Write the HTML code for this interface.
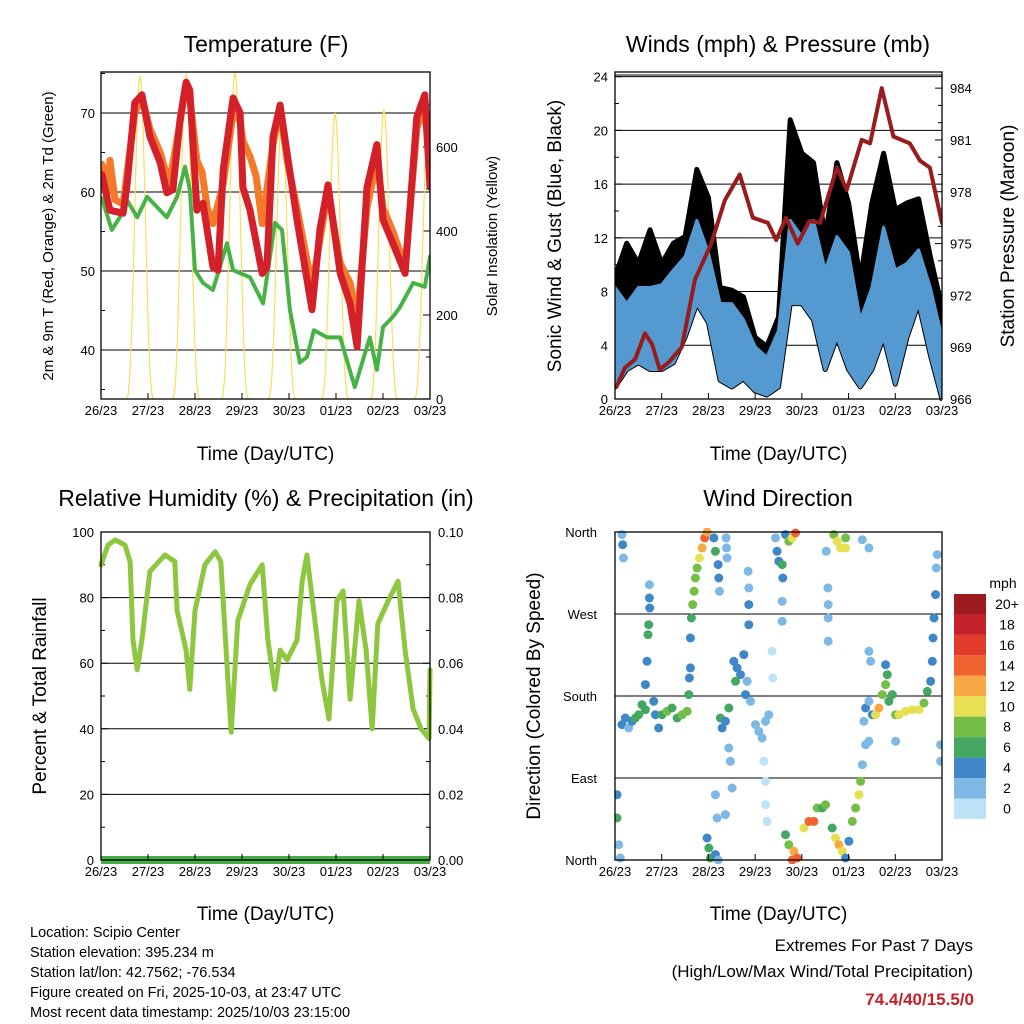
<!DOCTYPE html>
<html><head><meta charset="utf-8">
<style>
html,body{margin:0;padding:0;background:#fff;}
svg{display:block;font-family:"Liberation Sans",Arial,sans-serif;}
</style></head>
<body>
<svg id="c" width="1024" height="1024" viewBox="0 0 1024 1024" xmlns="http://www.w3.org/2000/svg"></svg>
<script>
// ---------- DATA ----------
const dayLabels = ["26/23","27/23","28/23","29/23","30/23","01/23","02/23","03/23"];
// Temperature (days since start, deg F)
const redT = [0.02,0.19,0.47,0.55,0.72,0.87,1.04,1.26,1.40,1.53,1.68,1.81,1.89,2.04,2.17,2.38,2.49,2.60,2.81,2.96,3.02,3.17,3.43,3.53,3.66,3.81,3.96,4.17,4.49,4.66,4.83,5.09,5.30,5.45,5.66,5.87,6.00,6.21,6.47,6.72,6.89,7.0];
const redV = [62.2,57.7,57.3,60.6,71.3,72.3,67,63.7,59.9,60.3,69.1,73.9,72.9,57.7,58.6,50.5,50.1,62.8,71.9,70,60.6,57.7,49.7,50.5,67,71,64.9,56.5,45.1,55.3,60.9,49.7,45.9,40.4,60.6,66,56.5,53.5,49.7,69.5,72.3,60.6];
const orgT = [0.02,0.15,0.19,0.30,0.47,0.72,0.87,1.04,1.26,1.45,1.60,1.81,1.89,2.04,2.15,2.26,2.38,2.60,2.81,2.96,3.02,3.17,3.30,3.43,3.66,3.81,3.96,4.17,4.49,4.66,4.83,5.09,5.30,5.45,5.66,5.87,6.00,6.21,6.47,6.72,6.89,7.0];
const orgV = [63.5,60,64,59,58.5,70,72,68,65,61,66,73.5,72,64,62.5,58,56,61,70,69,66.5,64.5,62,56,66,70.5,64,58,48,54,60,51,48.5,44,58,64,58,55,50.5,68,71,62];
const tdT = [0.02,0.23,0.40,0.55,0.77,0.98,1.40,1.62,1.79,1.89,2.00,2.17,2.38,2.68,2.81,3.17,3.45,3.70,3.85,4.02,4.23,4.38,4.53,4.81,5.09,5.40,5.72,5.87,6.00,6.21,6.36,6.64,6.89,7.0];
const tdV = [59.2,55.2,56.8,59,56.8,59.4,56.8,59.4,63.2,60.3,50.1,48.5,47.6,53.5,50.1,49.2,45.9,56.1,55.2,45.1,38.4,39.1,42.5,41.6,41.6,35.3,41.6,37.5,42.9,44.2,45.4,48.5,48,51.8];
// Solar insolation daily peaks (W/m2)
const solPeakT = [0.83,1.81,2.85,3.85,4.98,6.02,6.96];
const solPeakV = [770,775,780,681,681,690,660];
// Winds (mph)
const windT = [0,0.25,0.5,0.75,1,1.25,1.5,1.75,2,2.25,2.5,2.75,3,3.25,3.5,3.75,4,4.25,4.5,4.75,5,5.25,5.5,5.75,6,6.25,6.5,6.75,7];
const windHi = [8.3,7.1,8.3,8.3,8.5,9.6,10.6,13.3,10.9,7.1,7.1,5.9,3.9,3.1,5.1,13.3,12.1,13.3,9.6,12.1,10.9,5.9,8.3,12.8,9.6,10.1,11.1,8.3,4.6];
const windLo = [0.9,2.2,2.7,2.2,2.2,2.7,4.6,7.1,5.7,1.4,0.9,1.5,0.6,0.3,0.9,7.1,7.1,5.9,2.2,4.6,2.2,0.9,2.2,4.6,1.1,4.6,7.1,3.3,0.0];
const gustHi = [9.1,11.6,10.1,12.6,10.1,11.6,12.1,17.1,15,8.3,8.1,7.6,4.6,3.9,6.1,20.8,18.3,17.6,12.1,17.6,14.6,8.9,14.6,18.3,14.1,14.6,14.9,10.6,6.8];
// Pressure (mb)
const presT = [0.03,0.21,0.43,0.64,0.79,0.96,1.14,1.43,1.71,2.06,2.35,2.67,2.95,3.27,3.45,3.66,3.91,4.16,4.39,4.75,4.96,5.28,5.46,5.71,5.96,6.31,6.53,6.74,6.99,7.0];
const presV = [966.7,967.8,968.3,969.8,969.2,967.7,968.1,969,972.9,975,977.5,979,976.5,976.2,975.2,976.5,975,976.3,976.2,979.4,978.1,981,980.8,984,981.2,980.8,979.8,979.4,976.3,976.2];
// Relative humidity (%)
const rhT = [0,0.15,0.30,0.51,0.62,0.68,0.77,0.87,1.04,1.36,1.57,1.62,1.81,1.89,2.0,2.21,2.43,2.55,2.70,2.77,2.91,3.17,3.43,3.55,3.70,3.81,3.96,4.17,4.28,4.38,4.55,4.70,4.85,5.02,5.15,5.30,5.49,5.64,5.77,5.89,6.11,6.32,6.47,6.64,6.81,6.98,7.0];
const rhV = [90,96,97.6,96,91,67,58,67,88,93,91,76,64,52,76,90,94,91,55,39,73,84,90,67,52,64,61,67,85,93,73,55,43,79,82,49,79,64,40,72,79,85,64,46,40,37,58];
const precipTotal = 0;
// Wind direction scatter: time (days), direction (deg), speed (mph)
const dirZ = [[30,590,4],[40,570,5],[50,600,3],[60,580,4],[70,570,6],[80,560,6],[90,530,7],[100,545,7],[15,800,4],[15,870,6],[20,950,3],[25,990,2],[30,20,3],[32,50,4],[34,90,2],[100,470,4],[105,400,5],[108,320,7],[110,290,6],[113,240,4],[112,210,4],[112,170,2],[125,520,5],[130,560,4],[140,600,4],[150,560,7],[165,550,8],[180,540,7],[195,570,6],[210,560,8],[225,550,8],[230,500,6],[232,450,5],[235,420,4],[235,330,4],[238,270,7],[242,230,8],[246,190,8],[250,150,8],[255,120,9],[262,90,11],[270,60,13],[278,30,14],[285,12,13],[285,930,5],[290,960,6],[295,990,6],[310,980,4],[318,996,3],[305,30,5],[310,70,7],[318,110,4],[320,150,4],[322,190,2],[325,570,6],[330,600,4],[340,580,5],[350,540,6],[350,660,2],[355,700,2],[342,30,2],[343,60,2],[345,90,2],[365,400,4],[375,420,5],[385,440,4],[395,380,4],[405,460,3],[370,460,6],[400,500,4],[415,520,2],[408,130,3],[410,180,3],[410,230,4],[410,290,4],[430,590,2],[440,610,2],[450,630,2],[460,580,2],[470,560,2],[480,370,1],[482,450,1],[455,700,1],[460,760,1],[460,830,1],[465,880,1],[360,780,2],[340,860,2],[310,800,3],[315,870,2],[490,30,3],[495,70,4],[500,100,4],[510,110,6],[512,150,4],[510,220,3],[510,280,3],[520,20,5],[530,40,8],[540,30,11],[550,15,14],[520,920,7],[530,950,9],[545,970,12],[555,990,15],[540,996,14],[575,900,11],[590,880,15],[605,880,15],[615,840,9],[630,840,7],[640,830,8],[660,900,7],[670,930,10],[680,950,12],[690,970,10],[700,990,4],[710,940,4],[720,880,8],[730,840,9],[740,800,10],[745,760,9],[665,20,9],[675,40,10],[685,60,10],[700,30,9],[700,60,10],[647,180,3],[648,230,2],[648,270,3],[648,340,3],[642,70,3],[750,35,2],[770,60,2],[755,580,3],[760,540,4],[770,520,2],[780,560,5],[790,560,10],[800,540,13],[810,500,9],[820,470,8],[825,440,6],[830,520,7],[840,500,6],[850,560,9],[860,560,10],[880,550,10],[900,545,11],[920,545,11],[935,525,9],[945,490,6],[955,460,4],[960,400,4],[962,330,4],[965,270,4],[970,200,4],[972,120,2],[975,80,2],[760,650,3],[750,710,3],[770,640,2],[850,640,2],[775,400,2],[770,370,2],[820,410,4],[985,650,2],[985,700,2]];
const dirT = dirZ.map(p => +((p[0]-9)/140).toFixed(3));
const dirD = dirZ.map(p => +((996-p[1])/2.733).toFixed(1));
const dirS = dirZ.map(p => p[2]);
const speedLabels = ["20+","18","16","14","12","10","8","6","4","2","0"];
const speedColors = ["#9b1b1e","#c4212a","#e23a2b","#f0622f","#f8a946","#e6e052","#74bd46","#44a863","#3f87c6","#7db9e4","#bfe3f6"];

// ---------- HELPERS ----------
const svg = document.getElementById('c');
const NS = "http://www.w3.org/2000/svg";
function mk(tag, attrs, parent){
  const e = document.createElementNS(NS, tag);
  for (const k in attrs) e.setAttribute(k, attrs[k]);
  (parent||svg).appendChild(e);
  return e;
}
function txt(x,y,s,size,anchor,parent,extra){
  const t = mk('text',Object.assign({x:x,y:y,'font-size':size,'text-anchor':anchor||'middle',fill:'#000'},extra||{}),parent);
  t.textContent = s;
  return t;
}
function pathFrom(xs,ys){
  let d='';
  for(let i=0;i<xs.length;i++) d += (i?'L':'M')+xs[i].toFixed(1)+' '+ys[i].toFixed(1);
  return d;
}
function panel(name){
  const g = mk('g',{});
  
  
  return g;
}
function frame(g,x0,y0,x1,y1){
  const r = mk('rect',{x:x0,y:y0,width:x1-x0,height:y1-y0,fill:'none',stroke:'#000','stroke-width':1.3},g);
  
  
}
function xAxis(g,x0,x1,y1,labY,titleY){
  const ax = mk('g',{},g);
  
  
  for(let i=0;i<dayLabels.length;i++){
    const x = x0 + i*(x1-x0)/7;
    mk('line',{x1:x,y1:y1,x2:x,y2:y1-6,stroke:'#000','stroke-width':1},ax);
    const t = txt(x,labY,dayLabels[i],13,'middle',ax);
    
    
  }
  const tt = txt((x0+x1)/2,titleY,'Time (Day/UTC)',19,'middle',ax);
  
  
}
function vTitle(g,x,y,s,size,name){
  const t = txt(x,y,s,size,'middle',g,{transform:'rotate(-90 '+x+' '+y+')'});
  
  
}
function title(g,x,y,s,name){
  const t = txt(x,y,s,23,'middle',g);
  
  
}

// ---------- PANEL 1: TEMPERATURE ----------
(function(){
  const X0=101,X1=430,Y0=72,Y1=399;
  const g = panel('temperature-panel');
  const xT = t => X0 + t*(X1-X0)/7;
  const yT = v => 113 + (70-v)*7.9;
  const yS = v => 399 - v*0.42;
  title(g,266,52,'Temperature (F)','temperature-title');
  [40,50,60,70].forEach(v=>{
    mk('line',{x1:X0,x2:X1,y1:yT(v),y2:yT(v),stroke:'#000','stroke-width':1},g);
    const t=txt(X0-6,yT(v)+5,String(v),13,'end',g);
    
    
  });
  for(let v=35;v<=75;v+=5) mk('line',{x1:X0,x2:X0+(v%10?4:7),y1:yT(v),y2:yT(v),stroke:'#000'},g);
  [0,200,400,600].forEach(v=>{
    const t=txt(X1+6,yS(v)+5,String(v),13,'start',g);
    
    
  });
  for(let v=0;v<=700;v+=100) mk('line',{x1:X1,x2:X1-(v%200?4:7),y1:yS(v),y2:yS(v),stroke:'#000'},g);
  const cp = mk('clipPath',{id:'clip1'},g);
  mk('rect',{x:X0,y:Y0,width:X1-X0,height:Y1-Y0},cp);
  const sg = mk('g',{'clip-path':'url(#clip1)'},g);
  for(let i=0;i<solPeakT.length;i++){
    const xs=[],ys=[];
    for(let k=-12;k<=12;k++){
      const dt=k*0.025;
      const c=Math.cos(Math.PI*dt/0.6);
      xs.push(xT(solPeakT[i]+dt)); ys.push(yS(solPeakV[i]*c*c*c));
    }
    const p=mk('path',{d:pathFrom(xs,ys),fill:'none',stroke:'#f7df5a','stroke-width':1.2},sg);
    
    
  }
  const pg = mk('path',{d:pathFrom(tdT.map(xT),tdV.map(yT)),fill:'none',stroke:'#47b347','stroke-width':4,'stroke-linejoin':'round','stroke-linecap':'round'},sg);
  
  
  const po = mk('path',{d:pathFrom(orgT.map(xT),orgV.map(yT)),fill:'none',stroke:'#f47a2a','stroke-width':7,'stroke-linejoin':'round','stroke-linecap':'round'},sg);
  
  
  const pr = mk('path',{d:pathFrom(redT.map(xT),redV.map(yT)),fill:'none',stroke:'#d42028','stroke-width':7,'stroke-linejoin':'round','stroke-linecap':'round'},sg);
  
  
  frame(g,X0,Y0,X1,Y1);
  xAxis(g,X0,X1,Y1,415,460);
  vTitle(g,53,236,'2m & 9m T (Red, Orange) & 2m Td (Green)',15,'y-axis-title');
  vTitle(g,497,236,'Solar Insolation (Yellow)',15,'right-axis-title');
})();

// ---------- PANEL 2: WINDS ----------
(function(){
  const X0=615,X1=942,Y0=72,Y1=399;
  const g = panel('winds-panel');
  const xT = t => X0 + t*(X1-X0)/7;
  const yW = v => 399 - v*13.43;
  const yP = v => 399 - (v-966)*17.27;
  title(g,778,52,'Winds (mph) & Pressure (mb)','winds-title');
  [4,8,12,16,20,24].forEach(v=> mk('line',{x1:X0,x2:X1,y1:yW(v),y2:yW(v),stroke:'#000','stroke-width':1},g));
  mk('line',{x1:X0,x2:X1,y1:75,y2:75,stroke:'#000','stroke-width':1},g);
  [0,4,8,12,16,20,24].forEach(v=>{
    const t=txt(X0-7,yW(v)+5,String(v),13,'end',g);
    
    
    mk('line',{x1:X0,x2:X0+7,y1:yW(v),y2:yW(v),stroke:'#000'},g);
  });
  for(let v=2;v<24;v+=4) mk('line',{x1:X0,x2:X0+4,y1:yW(v),y2:yW(v),stroke:'#000'},g);
  [966,969,972,975,978,981,984].forEach(v=>{
    const t=txt(X1+8,yP(v)+5,String(v),13,'start',g);
    
    
  });
  for(let v=966;v<=984;v++) mk('line',{x1:X1,x2:X1-(v%3?4:7),y1:yP(v),y2:yP(v),stroke:'#000'},g);
  const cp = mk('clipPath',{id:'clip2'},g);
  mk('rect',{x:X0,y:Y0,width:X1-X0,height:Y1-Y0+2},cp);
  const sg = mk('g',{'clip-path':'url(#clip2)'},g);
  const gx = windT.map(xT);
  const gd = pathFrom(gx.concat(gx.slice().reverse()), gustHi.map(yW).concat(windLo.map(yW).reverse()))+'Z';
  const gp = mk('path',{d:gd,fill:'#000',stroke:'#000','stroke-width':5,'stroke-linejoin':'round'},sg);
  
  
  const bd = pathFrom(gx.concat(gx.slice().reverse()), windHi.map(yW).concat(windLo.map(yW).reverse()))+'Z';
  const bp = mk('path',{d:bd,fill:'#5599d1',stroke:'#5599d1','stroke-width':3,'stroke-linejoin':'round'},sg);
  
  
  const pp = mk('path',{d:pathFrom(presT.map(xT),presV.map(yP)),fill:'none',stroke:'#981c1e','stroke-width':4,'stroke-linejoin':'round','stroke-linecap':'round'},sg);
  
  
  frame(g,X0,Y0,X1,Y1);
  xAxis(g,X0,X1,Y1,415,460);
  vTitle(g,561,236,'Sonic Wind & Gust (Blue, Black)',19,'y-axis-title');
  vTitle(g,1014,236,'Station Pressure (Maroon)',19,'right-axis-title');
})();

// ---------- PANEL 3: RH ----------
(function(){
  const X0=101,X1=430,Y0=532,Y1=860;
  const g = panel('humidity-panel');
  const xT = t => X0 + t*(X1-X0)/7;
  const yR = v => 860 - v*3.28;
  title(g,266,506,'Relative Humidity (%) & Precipitation (in)','humidity-title');
  [0,20,40,60,80,100].forEach(v=>{
    if(v>0&&v<100) mk('line',{x1:X0,x2:X1,y1:yR(v),y2:yR(v),stroke:'#000','stroke-width':1},g);
    const t=txt(X0-7,yR(v)+5,String(v),13,'end',g);
    
    
    const t2=txt(X1+8,yR(v)+5,(v/1000).toFixed(2),13,'start',g);
    
    
  });
  for(let v=0;v<=100;v+=10){
    mk('line',{x1:X0,x2:X0+(v%20?4:7),y1:yR(v),y2:yR(v),stroke:'#000'},g);
    mk('line',{x1:X1,x2:X1-(v%20?4:7),y1:yR(v),y2:yR(v),stroke:'#000'},g);
  }
  const pl = mk('line',{x1:X0,x2:X1,y1:yR(precipTotal*1000),y2:yR(precipTotal*1000),stroke:'#46ad48','stroke-width':8},g);
  
  
  const p = mk('path',{d:pathFrom(rhT.map(xT),rhV.map(yR)),fill:'none',stroke:'#8dc63f','stroke-width':5,'stroke-linejoin':'round','stroke-linecap':'round'},g);
  
  
  frame(g,X0,Y0,X1,Y1);
  xAxis(g,X0,X1,Y1,876,920);
  vTitle(g,46,696,'Percent & Total Rainfall',19,'y-axis-title');
})();

// ---------- PANEL 4: WIND DIRECTION ----------
(function(){
  const X0=615,X1=942,Y0=532,Y1=860;
  const g = panel('wind-direction-panel');
  const xT = t => X0 + t*(X1-X0)/7;
  const yD = d => 860 - d*(328/360);
  title(g,778,506,'Wind Direction','wind-direction-title');
  const dl=["North","East","South","West","North"];
  for(let i=0;i<5;i++){
    const y=yD(i*90);
    if(i>0&&i<4) mk('line',{x1:X0,x2:X1,y1:y,y2:y,stroke:'#000','stroke-width':1},g);
    const t=txt(X0-18,y+5,dl[i],13,'end',g);
    
    
    mk('line',{x1:X0,x2:X0+7,y1:y,y2:y,stroke:'#000'},g);
  }
  const cp = mk('clipPath',{id:'clip4'},g);
  mk('rect',{x:X0,y:Y0-4,width:X1-X0,height:Y1-Y0+8},cp);
  const sg = mk('g',{'clip-path':'url(#clip4)'},g);
  for(let i=0;i<dirT.length;i++){
    const idx = 10 - Math.min(10, Math.floor(dirS[i]/2));
    const c = mk('circle',{cx:xT(dirT[i]).toFixed(1),cy:yD(dirD[i]).toFixed(1),r:4.5,fill:speedColors[idx]},sg);
    
    
  }
  frame(g,X0,Y0,X1,Y1);
  xAxis(g,X0,X1,Y1,876,920);
  vTitle(g,540,696,'Direction (Colored By Speed)',19,'y-axis-title');
  const cb = mk('g',{},g);
  
  
  txt(1003,588,'mph',14,'middle',cb);
  for(let i=0;i<speedLabels.length;i++){
    const y=594+i*20.45;
    mk('rect',{x:954,y:y,width:32,height:20.45,fill:speedColors[i]},cb);
    const t=txt(1007,y+15,speedLabels[i],14,'middle',cb);
    
    
  }
})();

// ---------- FOOTER ----------
(function(){
  const g = mk('g',{});
  
  
  const lines=["Location: Scipio Center","Station elevation: 395.234 m","Station lat/lon: 42.7562; -76.534","Figure created on Fri, 2025-10-03, at 23:47 UTC","Most recent data timestamp: 2025/10/03 23:15:00"];
  lines.forEach((s,i)=>txt(30,937+i*20,s,14.5,'start',g));
  const g2 = mk('g',{});
  
  
  txt(973,951,'Extremes For Past 7 Days',17,'end',g2);
  txt(973,977,'(High/Low/Max Wind/Total Precipitation)',17,'end',g2);
  txt(974,1005,'74.4/40/15.5/0',17,'end',g2,{fill:'#c8202a','font-weight':'bold'});
})();
</script>
</body></html>
